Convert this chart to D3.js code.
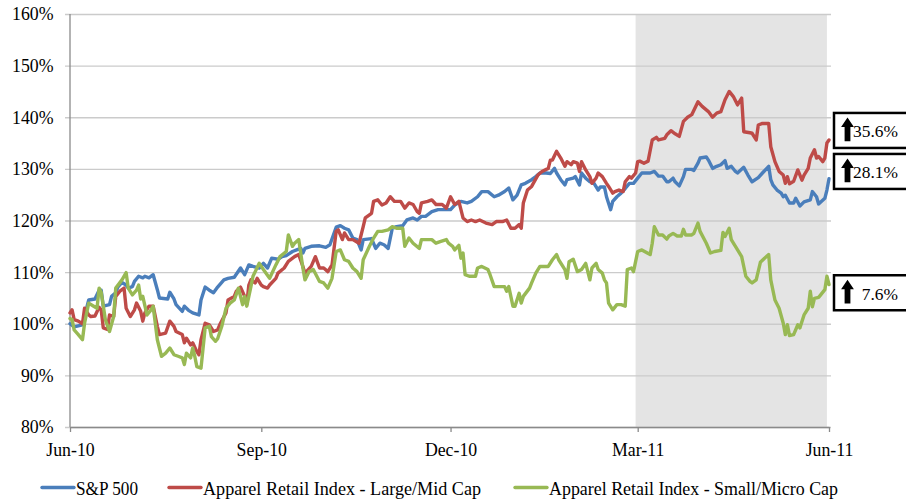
<!DOCTYPE html>
<html>
<head>
<meta charset="utf-8">
<script src="https://cdn.jsdelivr.net/npm/d3@7/dist/d3.min.js"></script>
<style>
  html, body { margin: 0; padding: 0; background: #ffffff; }
  svg { display: block; font-family: "Liberation Serif", "DejaVu Serif", serif; }
</style>
</head>
<body>
<svg id="chart" width="906" height="501"></svg>
<script>
// ---------------- DATA ----------------
const seriesNames = ["S&P 500", "Apparel Retail Index - Large/Mid Cap", "Apparel Retail Index - Small/Micro Cap"];
const yTickValues = [80, 90, 100, 110, 120, 130, 140, 150, 160];
const xTickDates = ["2010-06-01", "2010-09-01", "2010-12-01", "2011-03-01", "2011-06-01"];
const xTickLabels = ["Jun-10", "Sep-10", "Dec-10", "Mar-11", "Jun-11"];
const shadedPeriod = ["2011-02-28", "2011-05-31"];

const sp500 = [["2010-06-01",100],["2010-06-03",99.4],["2010-06-07",99.8],["2010-06-10",104.6],["2010-06-13",104.8],["2010-06-15",106.5],["2010-06-16",106.5],["2010-06-17",103.4],["2010-06-20",103.7],["2010-06-21",105.3],["2010-06-23",106],["2010-06-24",107.1],["2010-06-26",108],["2010-06-28",107.5],["2010-06-29",106.9],["2010-07-01",107.2],["2010-07-02",108.2],["2010-07-04",109.2],["2010-07-06",108.9],["2010-07-07",109.2],["2010-07-09",108.9],["2010-07-11",109.5],["2010-07-13",106.6],["2010-07-14",105],["2010-07-18",104.8],["2010-07-19",106.1],["2010-07-21",104.8],["2010-07-22",103.7],["2010-07-25",102.4],["2010-07-26",103.4],["2010-07-28",102.6],["2010-07-30",102.1],["2010-08-02",101.7],["2010-08-03",104.6],["2010-08-05",107.1],["2010-08-07",106.5],["2010-08-09",106],["2010-08-11",107.1],["2010-08-14",108.5],["2010-08-16",108.8],["2010-08-19",109],["2010-08-22",110.8],["2010-08-24",109.5],["2010-08-26",111.4],["2010-08-28",111.1],["2010-08-31",110.8],["2010-09-02",111.7],["2010-09-04",110.8],["2010-09-06",112.7],["2010-09-09",112.5],["2010-09-11",113],["2010-09-13",113.2],["2010-09-16",114],["2010-09-18",114.3],["2010-09-20",114.6],["2010-09-21",113.7],["2010-09-22",114.6],["2010-09-25",115],["2010-09-29",115.1],["2010-10-02",114.8],["2010-10-04",115.3],["2010-10-07",118.7],["2010-10-09",119],["2010-10-11",118.5],["2010-10-13",118.2],["2010-10-15",116.6],["2010-10-17",116.3],["2010-10-19",114.3],["2010-10-20",116.3],["2010-10-24",116.5],["2010-10-26",114.6],["2010-10-28",115.6],["2010-10-30",115.3],["2010-11-01",114.6],["2010-11-03",118.5],["2010-11-05",118.8],["2010-11-08",119],["2010-11-10",120.1],["2010-11-13",120.5],["2010-11-15",120.1],["2010-11-17",120.8],["2010-11-19",120.8],["2010-11-22",121.7],["2010-11-25",122.1],["2010-11-28",122.1],["2010-12-01",122.1],["2010-12-03",123],["2010-12-06",123.7],["2010-12-09",123.4],["2010-12-11",123.7],["2010-12-14",124.6],["2010-12-16",125.6],["2010-12-19",125.6],["2010-12-22",124.6],["2010-12-24",124.9],["2010-12-27",125.6],["2010-12-29",126.3],["2010-12-31",124],["2011-01-02",124.9],["2011-01-04",126.9],["2011-01-06",127.2],["2011-01-09",127.9],["2011-01-11",128.5],["2011-01-13",129.2],["2011-01-16",129.2],["2011-01-18",129.1],["2011-01-20",130.1],["2011-01-21",129.2],["2011-01-23",127.9],["2011-01-25",126.9],["2011-01-26",127.9],["2011-01-29",128.2],["2011-01-30",128.5],["2011-02-01",126.9],["2011-02-02",129.2],["2011-02-04",128.2],["2011-02-06",127.5],["2011-02-08",127.2],["2011-02-10",125.9],["2011-02-11",126.5],["2011-02-13",126.5],["2011-02-14",124.6],["2011-02-16",122.1],["2011-02-17",123.7],["2011-02-19",124.6],["2011-02-21",125.3],["2011-02-23",126.2],["2011-02-25",127.2],["2011-02-27",127.2],["2011-03-01",128.2],["2011-03-03",129.2],["2011-03-04",129.2],["2011-03-07",129.2],["2011-03-09",129.5],["2011-03-11",128.6],["2011-03-13",128.6],["2011-03-15",127.5],["2011-03-16",127.5],["2011-03-18",128.2],["2011-03-19",127.5],["2011-03-21",126.7],["2011-03-23",128.5],["2011-03-24",129.9],["2011-03-27",129.9],["2011-03-28",129.7],["2011-03-30",131.1],["2011-03-31",132.1],["2011-04-03",132.3],["2011-04-04",131.7],["2011-04-06",130.1],["2011-04-08",130.5],["2011-04-10",130.8],["2011-04-12",131.6],["2011-04-13",130.1],["2011-04-15",130.5],["2011-04-17",129.5],["2011-04-18",129.2],["2011-04-21",130.3],["2011-04-23",128.8],["2011-04-25",127.5],["2011-04-28",128.3],["2011-04-30",129.2],["2011-05-03",130.5],["2011-05-04",127.9],["2011-05-05",126.9],["2011-05-07",125.9],["2011-05-09",125.3],["2011-05-10",124.6],["2011-05-11",124.9],["2011-05-13",123.4],["2011-05-15",123.4],["2011-05-16",124.3],["2011-05-18",122.8],["2011-05-20",123.6],["2011-05-23",124],["2011-05-24",125.6],["2011-05-26",124.6],["2011-05-27",123.2],["2011-05-30",124.3],["2011-05-31",125.9],["2011-06-01",128.1]];

const largeMidCap = [["2010-06-01",102.1],["2010-06-02",102.7],["2010-06-03",100.8],["2010-06-05",100.5],["2010-06-07",100],["2010-06-08",103],["2010-06-10",101.7],["2010-06-11",101.4],["2010-06-13",101.5],["2010-06-15",103.2],["2010-06-16",102.7],["2010-06-17",99.2],["2010-06-19",98.9],["2010-06-20",101.7],["2010-06-22",101.4],["2010-06-23",105.3],["2010-06-25",106.3],["2010-06-27",106.9],["2010-06-28",103],["2010-06-30",101.4],["2010-07-02",102.7],["2010-07-03",104],["2010-07-05",102.4],["2010-07-06",100.5],["2010-07-07",102.1],["2010-07-09",103.4],["2010-07-11",103.4],["2010-07-13",99.5],["2010-07-14",97.9],["2010-07-17",98.2],["2010-07-19",100.5],["2010-07-21",99.5],["2010-07-22",98.5],["2010-07-25",97.9],["2010-07-26",96.3],["2010-07-27",97.2],["2010-07-29",95.9],["2010-07-30",96.3],["2010-08-01",94.6],["2010-08-02",94],["2010-08-03",96.9],["2010-08-05",100.1],["2010-08-07",99.8],["2010-08-09",98.5],["2010-08-11",98.8],["2010-08-12",99.8],["2010-08-15",102.1],["2010-08-16",104.6],["2010-08-19",105.3],["2010-08-20",106.3],["2010-08-22",107.1],["2010-08-24",105.3],["2010-08-25",103.7],["2010-08-26",107.5],["2010-08-27",108.5],["2010-08-29",107.9],["2010-08-30",108.8],["2010-09-01",107.5],["2010-09-02",107.2],["2010-09-04",106.9],["2010-09-05",107.5],["2010-09-08",108.8],["2010-09-09",109.8],["2010-09-12",110.8],["2010-09-14",112.1],["2010-09-17",113],["2010-09-19",113.4],["2010-09-21",111.1],["2010-09-22",109.8],["2010-09-25",111.1],["2010-09-27",113],["2010-09-29",110.8],["2010-10-01",110.8],["2010-10-03",110.1],["2010-10-05",111.4],["2010-10-07",117.9],["2010-10-08",118.2],["2010-10-10",116.3],["2010-10-11",117.6],["2010-10-13",116.3],["2010-10-15",116.3],["2010-10-18",115.6],["2010-10-20",118.8],["2010-10-21",120.5],["2010-10-24",121.4],["2010-10-25",123.7],["2010-10-27",124],["2010-10-29",123],["2010-10-31",123.4],["2010-11-02",124.6],["2010-11-04",123.7],["2010-11-07",123.7],["2010-11-09",122.4],["2010-11-11",123.4],["2010-11-13",123.1],["2010-11-15",121.7],["2010-11-16",121.4],["2010-11-17",123.4],["2010-11-20",123.7],["2010-11-22",124],["2010-11-24",123.1],["2010-11-27",123.1],["2010-11-29",122.4],["2010-12-01",124.6],["2010-12-03",123.1],["2010-12-05",123.7],["2010-12-07",120.5],["2010-12-09",119.8],["2010-12-11",120.1],["2010-12-13",119.8],["2010-12-15",120.1],["2010-12-18",119.5],["2010-12-21",119.2],["2010-12-23",119.8],["2010-12-26",119.8],["2010-12-28",120.1],["2010-12-30",118.5],["2011-01-01",118.5],["2011-01-03",119.2],["2011-01-04",118.5],["2011-01-05",123.4],["2011-01-07",125.9],["2011-01-09",126.6],["2011-01-12",128.8],["2011-01-14",129.5],["2011-01-17",130.1],["2011-01-18",131.7],["2011-01-19",131.7],["2011-01-21",133.4],["2011-01-23",132.1],["2011-01-25",130.5],["2011-01-26",131.4],["2011-01-28",130.8],["2011-01-29",131.4],["2011-01-31",131.1],["2011-02-01",129.5],["2011-02-02",131.4],["2011-02-04",129.8],["2011-02-06",128.5],["2011-02-07",127.2],["2011-02-09",128.2],["2011-02-10",129.2],["2011-02-12",128.5],["2011-02-14",127.2],["2011-02-15",126.6],["2011-02-17",125.3],["2011-02-18",125.6],["2011-02-20",125.9],["2011-02-22",125.6],["2011-02-23",127.5],["2011-02-25",128.5],["2011-02-26",128.2],["2011-02-28",129.2],["2011-03-01",131.4],["2011-03-02",131.5],["2011-03-04",131.1],["2011-03-06",131.5],["2011-03-08",135.6],["2011-03-10",136.1],["2011-03-11",135.6],["2011-03-14",135.9],["2011-03-15",136.6],["2011-03-17",137.4],["2011-03-19",136.8],["2011-03-21",136.3],["2011-03-23",139.2],["2011-03-25",140],["2011-03-27",140.5],["2011-03-30",143],["2011-04-01",142.1],["2011-04-04",141.1],["2011-04-06",140],["2011-04-08",140.8],["2011-04-10",141.1],["2011-04-12",143.4],["2011-04-14",145],["2011-04-16",144],["2011-04-18",142.4],["2011-04-20",143.7],["2011-04-21",137.2],["2011-04-24",137],["2011-04-25",136.9],["2011-04-27",135.6],["2011-04-28",138.5],["2011-04-30",138.8],["2011-05-03",138.8],["2011-05-04",134.3],["2011-05-06",131.4],["2011-05-08",129.5],["2011-05-10",128.8],["2011-05-11",127.2],["2011-05-12",128.5],["2011-05-13",127.1],["2011-05-15",127.6],["2011-05-17",129.8],["2011-05-19",127.8],["2011-05-20",128.8],["2011-05-22",130.1],["2011-05-23",132.1],["2011-05-25",133.7],["2011-05-26",132.1],["2011-05-27",132.4],["2011-05-29",131.4],["2011-05-30",132.1],["2011-05-31",135],["2011-06-01",135.6]];

const smallMicroCap = [["2010-06-01",101],["2010-06-02",100.8],["2010-06-03",98.8],["2010-06-05",97.9],["2010-06-07",96.9],["2010-06-08",100.1],["2010-06-10",104],["2010-06-12",103.5],["2010-06-14",103],["2010-06-15",106.9],["2010-06-16",106.1],["2010-06-18",100.8],["2010-06-20",98.5],["2010-06-22",101.4],["2010-06-23",106.9],["2010-06-26",108.5],["2010-06-28",109.9],["2010-06-29",106.9],["2010-07-01",105.6],["2010-07-03",106.5],["2010-07-04",107.5],["2010-07-05",104.8],["2010-07-06",105.3],["2010-07-08",101.7],["2010-07-10",102.7],["2010-07-11",103.4],["2010-07-13",96.9],["2010-07-15",93.7],["2010-07-17",94.3],["2010-07-19",95.3],["2010-07-21",94],["2010-07-23",93.7],["2010-07-25",93.4],["2010-07-26",92.1],["2010-07-27",94.3],["2010-07-29",93.4],["2010-07-30",95.3],["2010-07-31",93.7],["2010-08-01",91.7],["2010-08-03",91.4],["2010-08-05",99.2],["2010-08-07",99.5],["2010-08-08",97.5],["2010-08-10",96.6],["2010-08-11",97.1],["2010-08-13",99.5],["2010-08-15",103],["2010-08-17",104],["2010-08-19",104.6],["2010-08-21",106.9],["2010-08-23",103.7],["2010-08-24",105.3],["2010-08-25",103.4],["2010-08-27",107.2],["2010-08-28",109.2],["2010-08-31",111.7],["2010-09-02",110.5],["2010-09-05",108.8],["2010-09-08",111.4],["2010-09-10",113],["2010-09-13",114],["2010-09-14",117.2],["2010-09-16",115],["2010-09-17",115.6],["2010-09-19",116.3],["2010-09-21",110.8],["2010-09-22",108.5],["2010-09-24",110.1],["2010-09-26",110.5],["2010-09-29",108.2],["2010-10-01",107.9],["2010-10-03",106.9],["2010-10-05",108.8],["2010-10-07",114],["2010-10-09",114.3],["2010-10-11",112.4],["2010-10-13",112.1],["2010-10-15",110.8],["2010-10-17",110.1],["2010-10-19",108.8],["2010-10-20",112.4],["2010-10-23",115],["2010-10-25",116.6],["2010-10-27",117.9],["2010-10-29",117.9],["2010-11-01",118.2],["2010-11-03",118.8],["2010-11-05",118.5],["2010-11-08",118.5],["2010-11-09",115],["2010-11-11",116.6],["2010-11-13",115.6],["2010-11-16",114.6],["2010-11-17",116.3],["2010-11-20",116.3],["2010-11-22",116.3],["2010-11-24",115.6],["2010-11-26",115.9],["2010-11-29",116.3],["2010-11-30",115.6],["2010-12-02",115],["2010-12-03",114.3],["2010-12-05",115.2],["2010-12-06",112.7],["2010-12-07",113.7],["2010-12-08",109.5],["2010-12-10",109.2],["2010-12-13",109.2],["2010-12-14",110.8],["2010-12-16",111.1],["2010-12-19",110.5],["2010-12-20",109.5],["2010-12-22",107.2],["2010-12-27",107.2],["2010-12-28",106.3],["2010-12-29",107.2],["2010-12-31",103.4],["2011-01-01",103.4],["2011-01-03",105.9],["2011-01-04",104],["2011-01-05",105.3],["2011-01-08",106.9],["2011-01-09",107.9],["2011-01-11",109.8],["2011-01-13",111.1],["2011-01-17",111.1],["2011-01-19",112.4],["2011-01-21",113.4],["2011-01-22",112.4],["2011-01-25",110.5],["2011-01-26",108.8],["2011-01-27",112],["2011-01-29",112.5],["2011-01-31",110.1],["2011-02-02",110.5],["2011-02-04",111.7],["2011-02-06",108.5],["2011-02-07",110.8],["2011-02-09",111.7],["2011-02-10",110.5],["2011-02-12",109.8],["2011-02-13",108.5],["2011-02-14",107.9],["2011-02-15",104],["2011-02-17",102.7],["2011-02-19",103.7],["2011-02-21",103.7],["2011-02-23",103.4],["2011-02-24",110.5],["2011-02-26",110.8],["2011-02-27",110.1],["2011-03-01",114],["2011-03-03",114.3],["2011-03-07",113.4],["2011-03-08",115.6],["2011-03-09",118.8],["2011-03-11",117.2],["2011-03-13",117.2],["2011-03-15",116.4],["2011-03-16",117],["2011-03-18",117.5],["2011-03-20",117],["2011-03-22",117],["2011-03-23",118.3],["2011-03-24",117.2],["2011-03-27",117.2],["2011-03-28",117.5],["2011-03-30",119.5],["2011-03-31",117.9],["2011-04-03",115.6],["2011-04-05",113.7],["2011-04-07",114],["2011-04-10",114.2],["2011-04-11",117.7],["2011-04-12",116.9],["2011-04-14",118.5],["2011-04-15",116.3],["2011-04-17",115],["2011-04-20",113],["2011-04-22",109.2],["2011-04-24",108.2],["2011-04-25",107.9],["2011-04-27",108.5],["2011-04-29",111.9],["2011-05-01",112.7],["2011-05-03",113.4],["2011-05-04",108.5],["2011-05-06",104.6],["2011-05-08",103],["2011-05-10",100.1],["2011-05-11",97.9],["2011-05-12",99.8],["2011-05-13",97.7],["2011-05-15",97.9],["2011-05-17",99.8],["2011-05-18",99.2],["2011-05-20",101.7],["2011-05-22",103],["2011-05-23",106.3],["2011-05-24",103.3],["2011-05-25",104.9],["2011-05-27",105.1],["2011-05-28",105.6],["2011-05-30",106.6],["2011-05-31",109.2],["2011-06-01",107.6]];

const seriesColors = ["#4A7EBB", "#BE4B48", "#98B954"];

// ---------------- LAYOUT ----------------
const W = 906, H = 501;
const plot = { left: 70, right: 829, top: 14, bottom: 427 };
const parse = d3.timeParse("%Y-%m-%d");

const svg = d3.select("#chart");
svg.append("rect").attr("width", W).attr("height", H).attr("fill", "#ffffff");

const x = d3.scaleTime()
  .domain([parse(xTickDates[0]), parse(xTickDates[xTickDates.length - 1])])
  .range([plot.left, plot.right]);
const y = d3.scaleLinear()
  .domain([d3.min(yTickValues), d3.max(yTickValues)])
  .range([plot.bottom, plot.top]);

// shaded period
svg.append("rect")
  .attr("x", x(parse(shadedPeriod[0])))
  .attr("y", plot.top)
  .attr("width", x(parse(shadedPeriod[1])) - x(parse(shadedPeriod[0])))
  .attr("height", plot.bottom - plot.top)
  .attr("fill", "#e4e4e4");

// gridlines + y axis
const yAxis = d3.axisLeft(y)
  .tickValues(yTickValues)
  .tickSize(-(plot.right - plot.left + 2))
  .tickPadding(16)
  .tickFormat(d => d + "%");
const gy = svg.append("g")
  .attr("transform", `translate(${plot.left},0)`)
  .call(yAxis);
gy.select(".domain").remove();
gy.selectAll(".tick line").attr("stroke", "#cbcbcb").attr("stroke-width", 1.4).attr("x1", -5);
gy.selectAll(".tick text")
  .attr("fill", "#000")
  .attr("font-size", 17.8)
  .attr("font-family", "Liberation Serif, serif")
  .attr("dy", "0.33em");
gy.selectAll(".tick text").attr("x", -16.5);

// y axis line
svg.append("line")
  .attr("x1", plot.left).attr("x2", plot.left)
  .attr("y1", plot.top).attr("y2", plot.bottom)
  .attr("stroke", "#8a8a8a").attr("stroke-width", 1.3);

// x axis
const xAxis = d3.axisBottom(x)
  .tickValues(xTickDates.map(parse))
  .tickSize(5)
  .tickSizeOuter(0)
  .tickPadding(11)
  .tickFormat((d, i) => xTickLabels[i]);
const gx = svg.append("g")
  .attr("transform", `translate(0,${plot.bottom})`)
  .call(xAxis);
gx.select(".domain").attr("stroke", "#8a8a8a").attr("stroke-width", 1.3);
gx.selectAll(".tick line").attr("stroke", "#8a8a8a").attr("stroke-width", 1.3);
gx.selectAll(".tick text")
  .attr("fill", "#000")
  .attr("font-size", 17.8)
  .attr("font-family", "Liberation Serif, serif");

// lines
const line = d3.line()
  .x(d => x(parse(d[0])))
  .y(d => y(d[1]));
const allSeries = [sp500, largeMidCap, smallMicroCap];
allSeries.forEach((s, i) => {
  svg.append("path")
    .datum(s)
    .attr("d", line)
    .attr("fill", "none")
    .attr("stroke", seriesColors[i])
    .attr("stroke-width", 3.4)
    .attr("stroke-linejoin", "round")
    .attr("stroke-linecap", "round");
});

// callouts (change from start, based on last value)
const calloutOrder = [1, 0, 2];          // red, blue, green
const calloutTops = [111.7, 152.7, 274]; // layout
const fmt = d3.format(".1f");
calloutOrder.forEach((si, k) => {
  const s = allSeries[si];
  const change = s[s.length - 1][1] - 100;
  const top = calloutTops[k];
  const g = svg.append("g");
  g.append("rect")
    .attr("x", 834).attr("y", top + 1.25)
    .attr("width", 90).attr("height", 35)
    .attr("fill", "#fff").attr("stroke", "#000").attr("stroke-width", 2.5);
  const ax = 847.5, tip = top + 5.8, headBase = top + 15.2, bottom = top + 29.5;
  g.append("path")
    .attr("d", `M${ax},${tip} L${ax + 6.4},${headBase} L${ax + 2.9},${headBase} L${ax + 2.9},${bottom} L${ax - 2.9},${bottom} L${ax - 2.9},${headBase} L${ax - 6.4},${headBase} Z`)
    .attr("fill", "#000");
  g.append("text")
    .attr("x", 898).attr("y", top + 25.6)
    .attr("text-anchor", "end")
    .attr("font-size", 17.4)
    .attr("font-family", "Liberation Serif, serif")
    .text(fmt(change) + "%");
});

// legend
const legendY = 487.5;
const legendItems = [
  { x1: 42, x2: 74, tx: 76, tw: 62 },
  { x1: 169, x2: 201, tx: 203, tw: 278 },
  { x1: 515, x2: 547, tx: 549, tw: 289 }
];
legendItems.forEach((it, i) => {
  svg.append("line")
    .attr("x1", it.x1).attr("x2", it.x2)
    .attr("y1", legendY).attr("y2", legendY)
    .attr("stroke", seriesColors[i]).attr("stroke-width", 3.4)
    .attr("stroke-linecap", "round");
  svg.append("text")
    .attr("x", it.tx).attr("y", legendY + 7.5)
    .attr("font-size", 18.8)
    .attr("font-family", "Liberation Serif, serif")
    .attr("textLength", it.tw)
    .attr("lengthAdjust", "spacingAndGlyphs")
    .text(seriesNames[i]);
});
</script>
</body>
</html>
